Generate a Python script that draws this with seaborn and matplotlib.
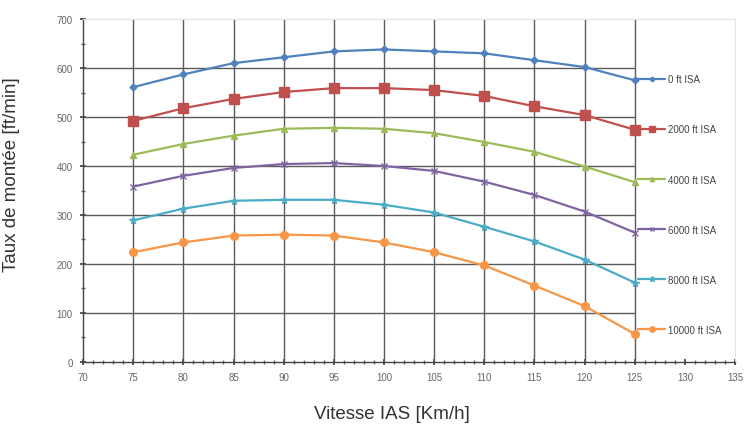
import matplotlib
matplotlib.use("Agg")
import matplotlib.pyplot as plt
import seaborn as sns
from matplotlib.ticker import MultipleLocator

# Vitesse IAS [km/h]
speeds = [75, 80, 85, 90, 95, 100, 105, 110, 115, 120, 125]

# Taux de montee [ft/min]
climb_0ft = [561, 587, 610, 622, 634, 638, 634, 630, 616, 602, 575]
climb_2000ft = [492, 518, 537, 551, 559, 559, 555, 543, 522, 504, 474]
climb_4000ft = [423, 445, 462, 476, 478, 476, 467, 449, 429, 399, 367]
climb_6000ft = [358, 380, 396, 404, 406, 400, 390, 368, 341, 307, 264]
climb_8000ft = [289, 313, 329, 331, 331, 321, 305, 276, 246, 209, 162]
climb_10000ft = [224, 244, 258, 260, 258, 244, 224, 197, 156, 114, 57]

labels = ["0 ft ISA", "2000 ft ISA", "4000 ft ISA", "6000 ft ISA", "8000 ft ISA", "10000 ft ISA"]

series = [climb_0ft, climb_2000ft, climb_4000ft, climb_6000ft, climb_8000ft, climb_10000ft]
colors = ["#4f81bd", "#c0504d", "#9bbb59", "#8064a2", "#4bacc6", "#f79646"]
markers = ["D", "s", "^", "x", "*", "o"]
msizes = [3.5, 6.5, 4.5, 4.5, 5.5, 5.5]

sns.set_theme(style="white")
plt.rcParams["font.family"] = ["Liberation Sans", "DejaVu Sans"]

fig, ax = plt.subplots(figsize=(7.44, 4.27), dpi=100)
fig.subplots_adjust(left=0.1116, right=0.988, top=0.953, bottom=0.150)

ax.set_xlim(70, 135)
ax.set_ylim(0, 700)

# grille : verticales sur toute la hauteur, horizontales jusqu'a la fin des courbes
ax.vlines(speeds, 0, 700, color="#5a5a5a", lw=1.0, zorder=1)
ax.hlines(range(100, 700, 100), 70, speeds[-1], color="#5a5a5a", lw=1.0, zorder=1)

for vals, lab, c, m, ms in zip(series, labels, colors, markers, msizes):
    sns.lineplot(x=speeds, y=vals, ax=ax, color=c, marker=m, markersize=ms,
                 markeredgecolor=c, markeredgewidth=1.0, lw=1.6, label=lab, zorder=3)

ax.xaxis.set_major_locator(MultipleLocator(5))
ax.xaxis.set_minor_locator(MultipleLocator(1))
ax.yaxis.set_major_locator(MultipleLocator(100))
ax.yaxis.set_minor_locator(MultipleLocator(50))
ax.tick_params(axis="both", which="major", labelsize=7, labelcolor="#666666",
               direction="inout", length=5, color="#444444", pad=5)
ax.tick_params(axis="both", which="minor", direction="inout", length=3, color="#666666")
ax.tick_params(axis="x", which="both", bottom=True)
ax.tick_params(axis="y", which="both", left=True)

for side in ["left", "bottom"]:
    ax.spines[side].set_color("#444444")
    ax.spines[side].set_linewidth(1.0)
for side in ["top", "right"]:
    ax.spines[side].set_color("#e3e3e3")
    ax.spines[side].set_linewidth(0.8)

ax.set_xlabel("Vitesse IAS [Km/h]", fontsize=13.5, color="#333333")
ax.set_ylabel("Taux de montée [ft/min]", fontsize=13.5, color="#333333")
ax.xaxis.set_label_coords(0.474, -0.125)
ax.yaxis.set_label_coords(-0.097, 0.548)

leg = ax.legend(loc="center left", bbox_to_anchor=(0.851, 0.459), frameon=False,
                fontsize=7, labelspacing=4.12, handlelength=2.8, handletextpad=0.3,
                borderpad=0, borderaxespad=0, markerscale=0.7)
for t in leg.get_texts():
    t.set_color("#444444")

fig.savefig("out.png", dpi=100)
